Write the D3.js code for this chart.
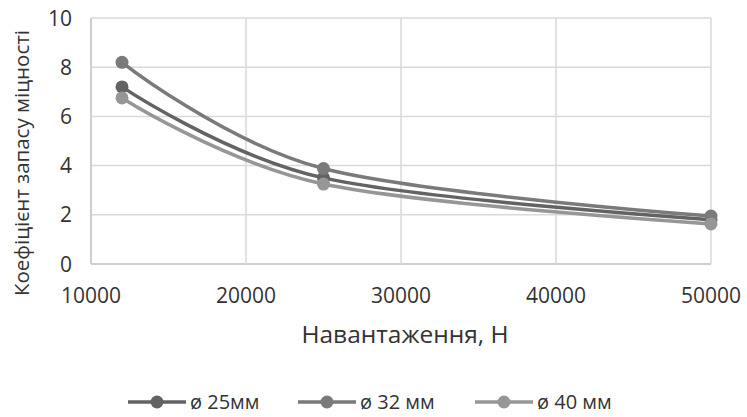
<!DOCTYPE html>
<html>
<head>
<meta charset="utf-8">
<script src="https://cdn.jsdelivr.net/npm/d3@7"></script>
<style>
body { margin: 0; background: #fff; }
text { font-family: "Open Sans", sans-serif; fill: #333; }
</style>
</head>
<body>
<div id="chart-area"></div>
<script>
const loads = [12000, 25000, 50000];
const s25 = [7.2, 3.5, 1.8];
const s32 = [8.2, 3.88, 1.95];
const s40 = [6.75, 3.25, 1.63];
const seriesNames = ["ø 25мм", "ø 32 мм", "ø 40 мм"];
const seriesColors = ["#636363", "#7a7a7a", "#969696"];
const xTicks = [10000, 20000, 30000, 40000, 50000];
const yTicks = [0, 2, 4, 6, 8, 10];

const width = 747, height = 417;
const margin = {top: 18, right: 36, bottom: 153, left: 91};

var svg = d3.select("#chart-area").append("svg")
	.attr("width", width)
	.attr("height", height);

var x = d3.scaleLinear().domain([10000, 50000]).range([margin.left, width - margin.right]);
var y = d3.scaleLinear().domain([0, 10]).range([height - margin.bottom, margin.top]);

// сітка
svg.selectAll(".gy").data(yTicks).enter().append("line")
	.attr("x1", x(10000)).attr("x2", x(50000))
	.attr("y1", d => y(d)).attr("y2", d => y(d))
	.attr("stroke", d => d === 0 ? "#bfbfbf" : "#d9d9d9")
	.attr("stroke-width", 1.5);
svg.selectAll(".gx").data(xTicks).enter().append("line")
	.attr("x1", d => x(d)).attr("x2", d => x(d))
	.attr("y1", y(0)).attr("y2", y(10))
	.attr("stroke", d => d === 10000 ? "#bfbfbf" : "#d9d9d9")
	.attr("stroke-width", 1.5);

// підписи осей
svg.selectAll(".ty").data(yTicks).enter().append("text")
	.attr("x", x(10000) - 19)
	.attr("y", d => y(d))
	.attr("dy", "0.36em")
	.attr("text-anchor", "end")
	.style("font-size", "21px")
	.text(d => d);
svg.selectAll(".tx").data(xTicks).enter().append("text")
	.attr("x", d => x(d))
	.attr("y", y(0) + 39)
	.attr("text-anchor", "middle")
	.style("font-size", "21px")
	.text(d => d);

svg.append("text")
	.attr("x", (x(10000) + x(50000)) / 2 + 4)
	.attr("y", 343)
	.attr("text-anchor", "middle")
	.style("font-size", "24.5px")
	.text("Навантаження, Н");
svg.append("text")
	.attr("transform", `translate(29,${(y(0) + y(10)) / 2 + 22}) rotate(-90)`)
	.attr("text-anchor", "middle")
	.style("font-size", "20.5px")
	.text("Коефіцієнт запасу міцності");

// лінії
var line = d3.line()
	.x((d, i) => x(loads[i]))
	.y(d => y(d))
	.curve(d3.curveCatmullRom.alpha(0));

[s25, s32, s40].forEach((s, k) => {
	svg.append("path")
		.datum(s)
		.attr("fill", "none")
		.attr("stroke", seriesColors[k])
		.attr("stroke-width", 3.5)
		.attr("d", line);
	svg.selectAll(".dot" + k).data(s).enter().append("circle")
		.attr("cx", (d, i) => x(loads[i]))
		.attr("cy", d => y(d))
		.attr("r", 6.5)
		.attr("fill", seriesColors[k]);
});

// легенда
const legendX = [128, 298, 475];
seriesNames.forEach((n, k) => {
	var lx = legendX[k], ly = 402;
	svg.append("line")
		.attr("x1", lx).attr("x2", lx + 58)
		.attr("y1", ly).attr("y2", ly)
		.attr("stroke", seriesColors[k])
		.attr("stroke-width", 3.5);
	svg.append("circle")
		.attr("cx", lx + 29).attr("cy", ly).attr("r", 6.5)
		.attr("fill", seriesColors[k]);
	svg.append("text")
		.attr("x", lx + 62).attr("y", ly)
		.attr("dy", "0.36em")
		.style("font-size", "20px")
		.text(n);
});
</script>
</body>
</html>
